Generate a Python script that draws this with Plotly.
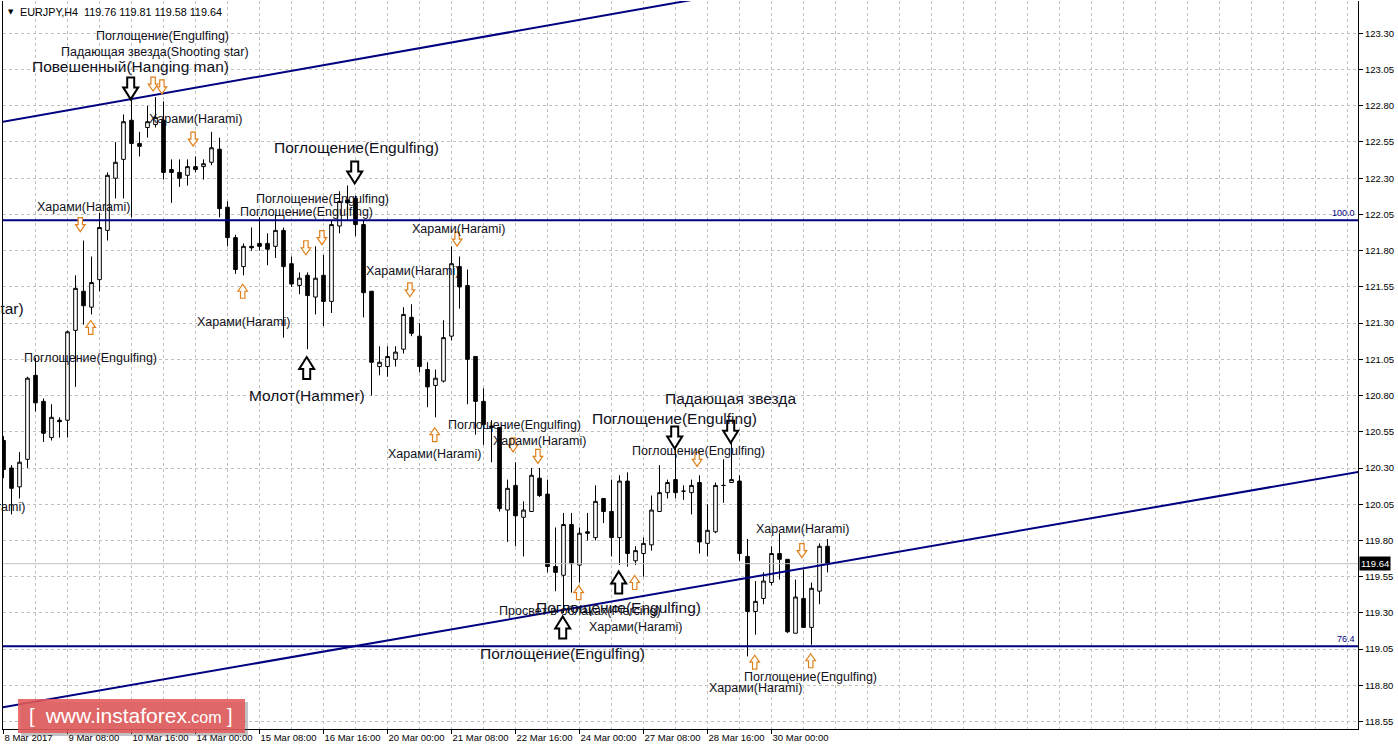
import plotly.graph_objects as go
import numpy as np

# ---------------- data (EURJPY H4) ----------------
open_ = [120.49,120.30,120.17,120.36,120.94,120.76,120.51,120.63,120.63,121.25,
         121.52,121.41,121.60,121.94,122.30,122.43,122.70,122.54,122.65,122.67,
         122.70,122.36,122.34,122.32,122.38,122.38,122.41,122.50,122.10,121.89,
         121.69,121.83,121.85,121.85,121.83,121.94,121.71,121.56,121.63,121.48,
         121.63,121.45,121.97,122.15,122.16,121.98,121.52,121.00,121.00,121.05,
         121.12,121.34,121.21,120.98,120.87,120.90,121.21,121.69,121.56,121.07,
         120.76,120.59,120.58,120.01,120.18,119.96,120.00,120.23,120.12,119.62,
         119.56,119.91,119.63,119.86,119.82,120.09,120.00,119.82,120.21,119.66,
         119.71,119.77,120.00,120.13,120.22,120.14,120.13,120.20,119.78,119.86,
         120.18,120.20,120.21,119.69,119.31,119.40,119.51,119.71,119.67,119.16,
         119.40,119.20,119.45,119.76]
high = [120.52,120.32,120.41,120.93,121.06,120.78,120.74,120.65,121.25,121.63,
        121.87,121.76,122.06,122.34,122.55,122.74,122.84,122.62,122.80,122.86,
        122.83,122.43,122.43,122.43,122.45,122.43,122.62,122.58,122.14,121.91,
        121.85,121.96,122.03,121.92,122.05,121.96,121.76,121.65,121.65,121.83,
        121.77,122.01,122.21,122.25,122.18,122.01,121.52,121.14,121.14,121.14,
        121.41,121.43,121.30,121.03,120.98,121.32,121.83,121.76,121.67,121.07,
        120.85,120.63,120.58,120.22,120.34,120.07,120.30,120.30,120.22,119.89,
        119.99,119.99,119.89,119.99,120.18,120.09,120.22,120.25,120.27,119.76,
        119.82,120.11,120.32,120.22,120.45,120.18,120.22,120.25,120.05,120.20,
        120.36,120.49,120.25,119.81,119.52,119.58,119.76,119.85,119.67,119.53,
        119.60,119.51,119.78,119.81]
low = [120.23,119.98,120.09,120.30,120.69,120.48,120.49,120.51,120.51,120.86,
       121.29,121.36,121.52,121.87,122.16,122.16,122.03,122.45,122.58,122.65,
       122.29,122.13,122.24,122.25,122.34,122.29,122.39,122.03,121.83,121.64,
       121.63,121.80,121.80,121.70,121.75,121.20,121.55,121.50,121.12,121.36,
       121.28,121.37,121.92,122.01,121.90,121.34,120.80,120.94,120.93,121.00,
       121.09,121.21,120.96,120.72,120.65,120.89,121.18,121.40,120.74,120.53,
       120.46,120.34,120.00,119.79,119.76,119.69,120.00,120.10,119.58,119.45,
       119.30,119.44,119.51,119.80,119.80,119.92,119.69,119.63,119.62,119.63,
       119.55,119.73,120.00,120.09,120.09,120.08,119.98,119.71,119.69,119.85,
       120.06,120.20,119.66,119.00,119.15,119.36,119.49,119.53,119.16,119.16,
       119.20,119.08,119.36,119.58]
close = [120.29,120.16,120.34,120.92,120.75,120.54,120.65,120.62,121.24,121.54,
         121.42,121.58,121.96,122.32,122.41,122.69,122.54,122.52,122.69,122.72,
         122.34,122.34,122.30,122.38,122.36,122.40,122.51,122.09,121.89,121.67,
         121.83,121.82,121.83,121.81,121.94,121.69,121.57,121.61,121.49,121.61,
         121.45,121.98,122.14,122.13,121.98,121.51,121.03,121.03,121.07,121.10,
         121.36,121.23,121.00,120.86,120.92,121.20,121.71,121.55,121.05,120.76,
         120.60,120.58,120.02,120.16,119.97,120.01,120.25,120.11,119.62,119.58,
         119.91,119.64,119.85,119.85,120.07,120.00,119.82,120.21,119.71,119.73,
         119.78,120.01,120.13,120.20,120.13,120.14,120.18,119.79,119.87,120.18,
         120.18,120.22,119.71,119.31,119.38,119.52,119.71,119.67,119.17,119.41,
         119.20,119.47,119.76,119.64]
bar_index = list(range(len(open_)))

date_tick_bars = [0, 8, 16, 24, 32, 40, 48, 56, 64, 72, 80, 88, 96]
date_tick_labels = ["8 Mar 2017", "9 Mar 08:00", "10 Mar 16:00", "14 Mar 00:00",
                    "15 Mar 08:00", "16 Mar 16:00", "20 Mar 00:00", "21 Mar 08:00",
                    "22 Mar 16:00", "24 Mar 00:00", "27 Mar 08:00", "28 Mar 16:00",
                    "30 Mar 00:00"]
price_ticks = [118.55, 118.80, 119.05, 119.30, 119.55, 119.80, 120.05, 120.30,
               120.55, 120.80, 121.05, 121.30, 121.55, 121.80, 122.05, 122.30,
               122.55, 122.80, 123.05, 123.30]
price_tick_labels = ["%.2f" % v for v in price_ticks]

level_100 = 122.01
level_764 = 119.07
bid_price = 119.64
upper_channel_bars = [0, 85]
upper_channel_prices = [122.69, 123.52]
lower_channel_bars = [0, 169]
lower_channel_prices = [118.65, 120.27]

# pattern labels: text, bar position, price, big?
pattern_labels = [
    ("Поглощение(Engulfing)", 19.9, 123.28, False),
    ("Падающая звезда(Shooting star)", 18.9, 123.17, False),
    ("Повешенный(Hanging man)", 15.9, 123.07, True),
    ("Харами(Harami)", 24.0, 122.71, False),
    ("Харами(Harami)", 10.0, 122.10, False),
    ("Поглощение(Engulfing)", 44.1, 122.51, True),
    ("Поглощение(Engulfing)", 39.9, 122.16, False),
    ("Поглощение(Engulfing)", 37.9, 122.07, False),
    ("Харами(Harami)", 56.9, 121.95, False),
    ("Харами(Harami)", 51.1, 121.66, False),
    ("Харами(Harami)", 30.0, 121.31, False),
    ("Поглощение(Engulfing)", 10.9, 121.06, False),
    ("Молот(Hammer)", 37.9, 120.80, True),
    ("Поглощение(Engulfing)", 63.9, 120.60, False),
    ("Харами(Harami)", 67.0, 120.49, False),
    ("Харами(Harami)", 53.9, 120.40, False),
    ("Падающая звезда", 90.9, 120.78, True),
    ("Поглощение(Engulfing)", 83.9, 120.64, True),
    ("Поглощение(Engulfing)", 86.9, 120.42, False),
    ("Харами(Harami)", 99.9, 119.88, False),
    ("Просвет в облаках(Piercing)", 72.0, 119.31, False),
    ("Поглощение(Engulfing)", 76.9, 119.34, True),
    ("Харами(Harami)", 79.0, 119.20, False),
    ("Поглощение(Engulfing)", 69.9, 119.02, True),
    ("Поглощение(Engulfing)", 100.9, 118.86, False),
    ("Харами(Harami)", 94.0, 118.78, False),
]
# labels cut by the left edge (right end visible)
cut_labels = [
    ("Падающая звезда(Shooting star)", 2.8, 121.40, True),
    ("Харами(Harami)", 2.9, 120.03, False),
]
# signal arrows: bar, price, direction, big?
arrows = [
    (9.6, 121.98, "down", False), (18.7, 122.95, "down", False), (19.8, 122.93, "down", False),
    (23.7, 122.57, "down", False), (37.8, 121.82, "down", False), (39.8, 121.89, "down", False),
    (50.8, 121.53, "down", False), (56.7, 121.88, "down", False), (63.7, 120.46, "down", False),
    (66.8, 120.38, "down", False), (86.7, 120.36, "down", False), (99.8, 119.73, "down", False),
    (10.9, 121.27, "up", False), (29.9, 121.52, "up", False), (53.9, 120.53, "up", False),
    (71.9, 119.44, "up", False), (78.9, 119.51, "up", False), (93.9, 118.96, "up", False),
    (100.9, 118.97, "up", False),
    (15.9, 122.92, "down", True), (43.9, 122.34, "down", True), (83.9, 120.51, "down", True),
    (90.9, 120.55, "down", True),
    (37.9, 120.99, "up", True), (76.9, 119.51, "up", True), (69.9, 119.20, "up", True),
]

# ---------------- figure ----------------
FONT = "Liberation Sans, Arial, sans-serif"
NAVY = "#000080"
GRID = "#c0c0c0"

fig = go.Figure()

fig.add_trace(go.Candlestick(
    x=bar_index, open=open_, high=high, low=low, close=close,
    increasing=dict(line=dict(color="black", width=1), fillcolor="white"),
    decreasing=dict(line=dict(color="black", width=1), fillcolor="black"),
    whiskerwidth=0, showlegend=False, hoverinfo="skip"))

# horizontal levels
xr = [-5, 175]
for lv in (level_100, level_764):
    fig.add_trace(go.Scatter(x=xr, y=[lv, lv], mode="lines",
                             line=dict(color=NAVY, width=2), hoverinfo="skip", showlegend=False))
fig.add_trace(go.Scatter(x=xr, y=[bid_price, bid_price], mode="lines",
                         line=dict(color=GRID, width=1), hoverinfo="skip", showlegend=False))

# channel lines
for bars, prices in ((upper_channel_bars, upper_channel_prices),
                     (lower_channel_bars, lower_channel_prices)):
    coef = np.polyfit(bars, prices, 1)
    xs = np.array(xr, dtype=float)
    fig.add_trace(go.Scatter(x=xs, y=np.polyval(coef, xs), mode="lines",
                             line=dict(color=NAVY, width=2), hoverinfo="skip", showlegend=False))

annotations = []
for text, bx, py, big in pattern_labels:
    annotations.append(dict(x=bx, y=py, xref="x", yref="y", text=text, showarrow=False,
                            xanchor="center", yanchor="middle",
                            font=dict(family=FONT, size=15.5 if big else 12.5, color="#101020")))
for text, bx, py, big in cut_labels:
    annotations.append(dict(x=bx, y=py, xref="x", yref="y", text=text, showarrow=False,
                            xanchor="right", yanchor="middle",
                            font=dict(family=FONT, size=15.5 if big else 12.5, color="#101020")))

shapes = []
# arrow glyphs drawn as pixel-sized paths anchored at data points
def arrow_path(direction, big):
    if big:
        sw, hw, top, mid, tip = 3.5, 7.5, 11, 1, -11
    else:
        sw, hw, top, mid, tip = 2.2, 4.8, 7, 0, -7
    s = -1 if direction == "up" else 1
    pts = [(-sw, s * top), (sw, s * top), (sw, s * mid), (hw, s * mid), (0, s * tip),
           (-hw, s * mid), (-sw, s * mid)]
    return "M " + " L ".join("%g,%g" % p for p in pts) + " Z"

for bx, py, d, big in arrows:
    shapes.append(dict(type="path", xref="x", yref="y", xsizemode="pixel", ysizemode="pixel",
                       xanchor=bx, yanchor=py, path=arrow_path(d, big),
                       fillcolor="white",
                       line=dict(color="black" if big else "#e0801a", width=2 if big else 1.2),
                       layer="above"))

# level labels
annotations.append(dict(x=1, y=level_100, xref="paper", yref="y", text="100.0", showarrow=False,
                        xanchor="right", yanchor="bottom", xshift=-1,
                        font=dict(family=FONT, size=9, color=NAVY)))
annotations.append(dict(x=1, y=level_764, xref="paper", yref="y", text="76.4", showarrow=False,
                        xanchor="right", yanchor="bottom", xshift=-1,
                        font=dict(family=FONT, size=9, color=NAVY)))
# bid label
annotations.append(dict(x=1, y=bid_price, xref="paper", yref="y", text="%.2f" % bid_price,
                        showarrow=False, xanchor="left", yanchor="middle", xshift=1,
                        bgcolor="black", borderpad=1,
                        font=dict(family=FONT, size=9.5, color="white")))
# header
annotations.append(dict(x=0.0025, y=0.985, xref="paper", yref="paper", text="▼",
                        showarrow=False, xanchor="left", yanchor="middle",
                        font=dict(family="DejaVu Sans", size=7, color="black")))
annotations.append(dict(x=0.011, y=0.985, xref="paper", yref="paper",
                        text="EURJPY,H4  %.2f %.2f %.2f %.2f" % (open_[-1], high[-1], low[-1], close[-1]),
                        showarrow=False, xanchor="left", yanchor="middle",
                        font=dict(family=FONT, size=10.8, color="black")))

# instaforex badge
shapes.append(dict(type="rect", xref="paper", yref="paper", x0=0.0133, x1=0.1808,
                   y0=-0.0097, y1=0.0371, fillcolor="rgba(80,80,80,0.35)", line=dict(width=0),
                   layer="above"))
shapes.append(dict(type="rect", xref="paper", yref="paper", x0=0.0111, x1=0.1786,
                   y0=-0.0055, y1=0.0412, fillcolor="rgba(226,90,90,0.88)", line=dict(width=0),
                   layer="above"))
annotations.append(dict(x=0.0945, y=0.0179, xref="paper", yref="paper",
                        text="[  <span style='font-size:21px'>www.instaforex</span>"
                             "<span style='font-size:16px'>.com</span> ]",
                        showarrow=False, xanchor="center", yanchor="middle",
                        font=dict(family=FONT, size=20, color="white")))

fig.update_layout(
    width=1398, height=750,
    margin=dict(l=3, r=40, t=1, b=21, autoexpand=False),
    paper_bgcolor="white", plot_bgcolor="white",
    showlegend=False, boxgap=0.35,
    annotations=annotations, shapes=shapes,
    xaxis=dict(range=[-0.0625, 169.31], tickmode="array", tickvals=date_tick_bars,
               ticktext=date_tick_labels, ticks="outside", ticklen=4, tickcolor="black",
               ticklabelposition="outside right", tickangle=0, automargin=False,
               tickfont=dict(family=FONT, size=9.5, color="black"),
               showline=True, linecolor="black", linewidth=1, mirror=False,
               showgrid=True, gridcolor=GRID, griddash="3px,3px", gridwidth=1,
               zeroline=False, rangeslider=dict(visible=False), fixedrange=True,
               minor=dict(tick0=0, dtick=4, showgrid=True, gridcolor=GRID,
                          griddash="3px,3px", gridwidth=1, ticks="")),
    yaxis=dict(side="right", range=[118.499, 123.523], tickmode="array",
               tickvals=price_ticks, ticktext=price_tick_labels, automargin=False,
               ticks="outside", ticklen=4, tickcolor="black",
               tickfont=dict(family=FONT, size=9.5, color="black"),
               showline=True, mirror=True, linecolor="black", linewidth=1,
               showgrid=True, gridcolor=GRID, griddash="3px,3px", gridwidth=1,
               zeroline=False, fixedrange=True),
)

fig.write_html("out.html", config={"displayModeBar": False},
               post_script="document.body.style.margin='0';document.body.style.padding='0';")
